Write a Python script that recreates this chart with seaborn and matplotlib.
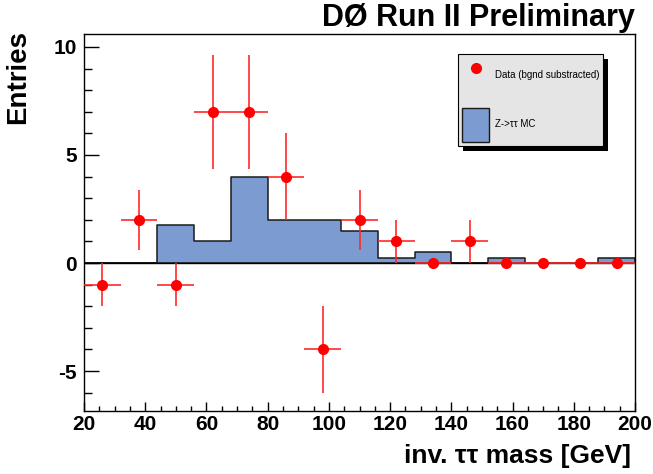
import matplotlib
matplotlib.use("Agg")
import matplotlib.pyplot as plt
import numpy as np
import seaborn as sns
from matplotlib.ticker import MultipleLocator
from matplotlib.lines import Line2D
from matplotlib.patches import Patch, Rectangle

# bin edges of the invariant mass histogram [GeV]
bin_edges = [20, 32, 44, 56, 68, 80, 92, 104, 116, 128, 140, 152, 164, 176, 188, 200]
# Z->tautau MC expectation per bin
mc_counts = [0, 0, 1.75, 1.0, 4.0, 2.0, 2.0, 1.5, 0.25, 0.5, 0, 0.25, 0, 0, 0.25]
# background-subtracted data per bin
data_counts = [-1, 2, -1, 7, 7, 4, -4, 2, 1, 0, 1, 0, 0, 0, 0]
data_errors = [1, 1.4, 1, 2.65, 2.65, 2, 2, 1.4, 1, 0, 1, 0, 0, 0, 0]

centers = [(a + b) / 2 for a, b in zip(bin_edges[:-1], bin_edges[1:])]
half_widths = [(b - a) / 2 for a, b in zip(bin_edges[:-1], bin_edges[1:])]

sns.set_style("white")
plt.rcParams['font.family'] = ['Liberation Sans', 'DejaVu Sans']
plt.rcParams['axes.unicode_minus'] = False
plt.rcParams['text.color'] = 'black'
plt.rcParams['axes.labelcolor'] = 'black'

fig = plt.figure(figsize=(6.53, 4.74), dpi=100)
ax = fig.add_axes([84 / 653, 1 - 411 / 474, 551 / 653, 377 / 474])

hist_color = '#7b9bd1'
sns.histplot(x=centers, weights=mc_counts, bins=bin_edges, element="step", fill=True,
             color=hist_color, alpha=1, edgecolor='#1a1a1a', linewidth=1.1, ax=ax)

ax.axhline(0, color='black', linewidth=1.0, zorder=3)

ax.errorbar(centers, data_counts, xerr=half_widths, yerr=data_errors, fmt='o',
            color='red', ecolor='#ff2a2a', elinewidth=1.2, markersize=7, capsize=0, zorder=4)

ax.set_xlim(20, 200)
ax.set_ylim(-6.85, 10.6)

ax.xaxis.set_major_locator(MultipleLocator(20))
ax.xaxis.set_minor_locator(MultipleLocator(5))
ax.yaxis.set_major_locator(MultipleLocator(5))
ax.yaxis.set_minor_locator(MultipleLocator(1))
ax.tick_params(axis='both', which='both', direction='in', bottom=True, left=True,
               top=False, right=False, colors='black', width=1.0)
ax.tick_params(axis='y', which='major', length=11, pad=5, labelsize=15)
ax.tick_params(axis='y', which='minor', length=5.5)
ax.tick_params(axis='x', which='major', length=6.5, pad=3, labelsize=15)
ax.tick_params(axis='x', which='minor', length=3.5)
for lab in ax.get_xticklabels() + ax.get_yticklabels():
    lab.set_fontweight('bold')

for sp in ax.spines.values():
    sp.set_color('black')
    sp.set_linewidth(1.0)

ax.set_xlabel('inv. ττ mass [GeV]', fontsize=19, fontweight='bold', ha='right', va='baseline')
ax.xaxis.set_label_coords(0.993, -0.139)
ax.set_ylabel('Entries', fontsize=20, fontweight='bold', ha='right', va='bottom')
ax.yaxis.set_label_coords(-0.096, 1.01)

ax.set_title('DØ Run II Preliminary', loc='right', pad=6, fontsize=22, fontweight='bold',
             color='black')

handles = [
    Line2D([0], [0], marker='o', color='red', linestyle='none', markersize=7),
    Patch(facecolor=hist_color, edgecolor='#1a1a1a', linewidth=1.0),
]
leg = ax.legend(handles, ['Data (bgnd substracted)', 'Z->ττ MC'],
                loc='upper left', bbox_to_anchor=((458 - 84) / 551, (411 - 54) / 377 - 0.01, 145 / 551, 0.01),
                mode='expand', fontsize=7, frameon=True, fancybox=False,
                facecolor='#e5e5e5', edgecolor='black',
                framealpha=1, borderpad=0.46, handlelength=2.7, handleheight=5.0,
                handletextpad=0.6, labelspacing=1.6, borderaxespad=0)
leg.get_frame().set_linewidth(0.8)

# ROOT-style drop shadow behind the legend box
fig.canvas.draw()
bb = leg.get_window_extent().transformed(ax.transAxes.inverted())
dx = 5 / 551
dy = 5 / 377
ax.add_patch(Rectangle((bb.x0 + dx, bb.y0 - dy), bb.width, bb.height, transform=ax.transAxes,
                       facecolor='black', edgecolor='none', zorder=4.9, clip_on=False))

plt.savefig('out.png', dpi=100)
